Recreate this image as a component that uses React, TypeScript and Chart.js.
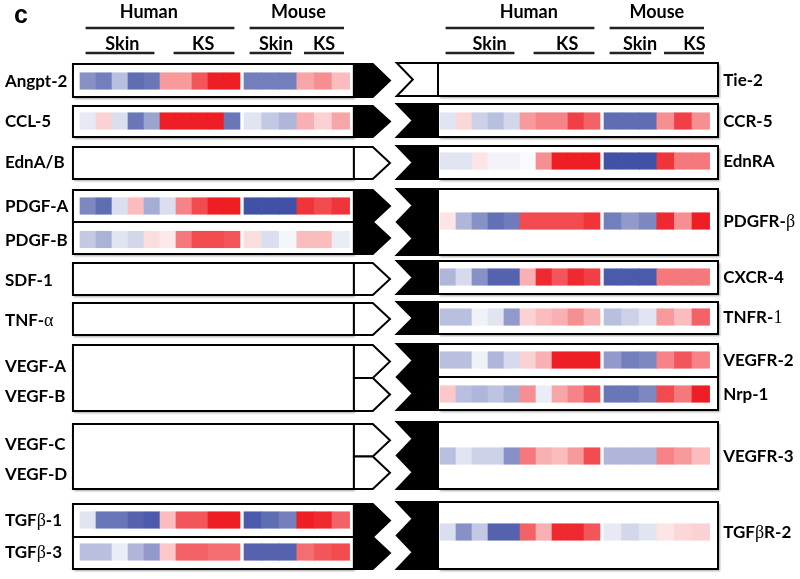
import React, { useEffect, useRef } from "react";
import { Chart, registerables } from "chart.js";

Chart.register(...registerables);

// ---------------- data ----------------
const PANEL_LETTER = "c";
const SPECIES = ["Human", "Mouse"];
const TISSUES = ["Skin", "KS"];
const HUMAN_SKIN_SAMPLES = 5;
const MOUSE_SKIN_SAMPLES = 3;

// relative expression (-1 = strongly down / blue, +1 = strongly up / red); null = not measured
const LIGANDS = ["Angpt-2", "CCL-5", "EdnA/B", "PDGF-A", "PDGF-B", "SDF-1", "TNF-α", "VEGF-A", "VEGF-B", "VEGF-C", "VEGF-D", "TGFβ-1", "TGFβ-3"];
const LIGAND_HUMAN: (number[] | null)[] = [
  [-0.6, -0.7, -0.35, -0.8, -0.75, 0.45, 0.45, 0.75, 1, 1],
  [-0.12, 0.2, -0.18, -0.75, -0.5, 1, 1, 1, 1, -0.75],
  null,
  [-0.65, -0.8, -0.18, 0.3, -0.45, -0.18, 0.55, 0.8, 1, 1],
  [-0.3, -0.42, -0.15, -0.22, 0.15, 0.1, 0.6, 0.8, 0.8, 0.75],
  null,
  null,
  null,
  null,
  null,
  null,
  [-0.15, -0.75, -0.75, -0.85, -0.9, 0.3, 0.75, 0.75, 1, 1],
  [-0.35, -0.35, -0.1, -0.4, -0.55, 0.25, 0.7, 0.7, 0.65, 0.65],
];
const LIGAND_MOUSE: (number[] | null)[] = [
  [-0.7, -0.7, -0.7, 0.4, 0.5, 0.3],
  [-0.15, -0.3, -0.4, 0.35, 0.2, 0.4],
  null,
  [-0.95, -0.95, -0.95, 0.9, 0.8, 0.9],
  [0.15, -0.18, -0.05, 0.3, 0.3, -0.1],
  null,
  null,
  null,
  null,
  null,
  null,
  [-0.9, -0.8, -0.7, 1, 0.95, 0.7],
  [-0.85, -0.85, -0.85, 0.65, 0.75, 0.8],
];

const RECEPTORS = ["Tie-2", "CCR-5", "EdnRA", "PDGFR-β", "CXCR-4", "TNFR-1", "VEGFR-2", "Nrp-1", "VEGFR-3", "TGFβR-2"];
const RECEPTOR_HUMAN: (number[] | null)[] = [
  null,
  [-0.15, 0.18, -0.25, -0.35, -0.22, 0.45, 0.55, 0.55, 0.85, 0.7],
  [-0.15, -0.15, 0.12, -0.06, -0.06, -0.03, 0.5, 1, 1, 1],
  [0.12, -0.4, -0.6, -0.78, -0.72, 0.8, 0.8, 0.8, 0.8, 0.9],
  [-0.4, -0.2, -0.6, -0.85, -0.85, 0.35, 0.95, 0.75, 0.95, 0.85],
  [-0.35, -0.35, -0.07, -0.15, -0.55, 0.2, 0.3, 0.35, 0.5, 0.35],
  [-0.35, -0.35, -0.07, -0.4, -0.2, 0.2, 0.35, 1, 1, 1],
  [0.25, -0.35, -0.4, -0.33, -0.45, 0.5, -0.1, 0.4, 0.55, 0.75],
  [-0.35, -0.15, -0.25, -0.25, -0.6, 0.6, 0.35, 0.3, 0.45, 0.8],
  [-0.18, -0.6, -0.3, -0.85, -0.85, 0.7, 0.35, 0.95, 0.95, 0.75],
];
const RECEPTOR_MOUSE: (number[] | null)[] = [
  null,
  [-0.8, -0.8, -0.8, 0.5, 0.85, 0.5],
  [-0.95, -0.95, -0.95, 0.9, 0.6, 0.6],
  [-0.7, -0.55, -0.65, 0.95, 0.5, 1],
  [-0.9, -0.9, -0.9, 0.6, 0.6, 0.6],
  [-0.35, -0.25, -0.15, 0.45, 0.3, 0.7],
  [-0.55, -0.7, -0.65, 0.55, 0.75, 0.55],
  [-0.75, -0.75, -0.65, 0.8, 0.6, 1],
  [-0.4, -0.4, -0.4, 0.55, 0.45, 0.3],
  [-0.12, -0.22, -0.15, 0.12, 0.18, 0.2],
];

// ---------------- layout (scale units) ----------------
// x: one unit = one human sample column; y: vertical position units
const COL = { humanW: 1, mouseStart: 10.25, mouseW: 1.1, rightOffset: 22.5 };
const X = {
  leftLabel: -4.69,
  leftBoxL: -0.44,
  leftBoxR: 17.12,
  arrowShoulder: 18.3,
  arrowTip: 19.375,
  notchL: 19.8,
  notchTip: 20.8,
  rightBoxL: 22.375,
  rightBoxR: 39.875,
  rightLabel: 40.2,
};
const LIGAND_ROW_Y = [81, 121, 162, 206, 239.5, 280, 320, 366, 396, 444, 474, 520, 552];
const RECEPTOR_ROW_Y = [80, 121, 161, 221, 277, 317, 360, 394, 456, 532];
const LEFT_BOXES = [[64, 97], [106, 137], [147, 179], [190, 222], [222, 254], [263, 295], [303, 335], [345, 411], [424, 489], [504, 537], [537, 569]];
const LEFT_ARROWS = [
  [64, 97, 1], [106, 137, 1], [147, 179, 0], [190, 222, 1], [222, 254, 1], [263, 295, 0], [303, 335, 0],
  [345, 378, 0], [378, 411, 0], [424, 456.5, 0], [456.5, 489, 0], [504, 537, 1], [537, 569, 1],
];
const RIGHT_BOXES = [[63, 96], [104, 137], [146, 179], [189, 255], [261, 294], [302, 334], [344, 377], [377, 410], [422, 489], [502, 569]];
const RIGHT_NOTCHES = [
  [63, 96, 1, 0], [104, 137, 1, 1], [146, 179, 1, 1], [189, 255, 2, 1], [261, 294, 1, 1],
  [302, 334, 1, 1], [344, 410, 2, 1], [422, 489, 2, 1], [502, 569, 2, 1],
];
const HEADER_Y = { species: 18, speciesLine: 28, tissue: 50, tissueLine: 53 };
// text-centre shifts (x units) for the hand-placed header words, per side: [species0, species1, t0h, t1h, t0m, t1m]
const HEADER_DX = [
  [-0.7, 0.1, 0.15, 0.2, 0.35, 0.05],
  [0.55, 0.0, 0.6, 0.45, 0.6, 0.7],
];

const RED = [237, 30, 36];
const BLUE = [55, 72, 160];
const LABEL_FONT = "bold 17px Lato";
const SERIF_FONT = "18px 'Liberation Serif'";
const HEADER_FONT = "bold 18px Lato";

function colorFor(v: number) {
  const c = v >= 0 ? RED : BLUE;
  const a = Math.min(1, Math.abs(v));
  const m = (k: number) => Math.round(255 * (1 - a) + c[k] * a);
  return `rgb(${m(0)},${m(1)},${m(2)})`;
}

function colRange(side: number, species: number, i: number): [number, number] {
  const off = side * COL.rightOffset;
  if (species === 0) return [off + i * COL.humanW, off + (i + 1) * COL.humanW];
  return [off + COL.mouseStart + i * COL.mouseW, off + COL.mouseStart + (i + 1) * COL.mouseW];
}

type Cell = { x: [number, number]; y: number; c: string };
function buildCells(): Cell[] {
  const out: Cell[] = [];
  const sides = [
    { h: LIGAND_HUMAN, m: LIGAND_MOUSE, y: LIGAND_ROW_Y },
    { h: RECEPTOR_HUMAN, m: RECEPTOR_MOUSE, y: RECEPTOR_ROW_Y },
  ];
  sides.forEach((s, side) => {
    s.h.forEach((row, r) => {
      if (!row) return;
      row.forEach((v, i) => out.push({ x: colRange(side, 0, i), y: s.y[r], c: colorFor(v) }));
      const mrow = s.m[r];
      if (mrow) mrow.forEach((v, i) => out.push({ x: colRange(side, 1, i), y: s.y[r], c: colorFor(v) }));
    });
  });
  return out;
}

const SERIF_TAIL: Record<string, number> = { "TNFR-1": 5 };
function drawRich(ctx: CanvasRenderingContext2D, text: string, x: number, y: number) {
  const runs: { t: string; serif: boolean }[] = [];
  const from = SERIF_TAIL[text];
  for (let i = 0; i < text.length; i++) {
    const ch = text[i];
    const serif = "αβ".includes(ch) || (from !== undefined && i >= from);
    const last = runs[runs.length - 1];
    if (last && last.serif === serif) last.t += ch;
    else runs.push({ t: ch, serif });
  }
  let cx = x;
  for (const r of runs) {
    ctx.font = r.serif ? SERIF_FONT : LABEL_FONT;
    ctx.fillText(r.t, cx, y);
    cx += ctx.measureText(r.t).width;
  }
}

const decorPlugin = {
  id: "decor",
  beforeDatasetsDraw(chart: any) {
    const ctx: CanvasRenderingContext2D = chart.ctx;
    const xs = chart.scales.x;
    const ys = chart.scales.y;
    const px = (u: number) => xs.getPixelForValue(u);
    const py = (v: number) => ys.getPixelForValue(v);
    ctx.save();
    const box = (l: number, r: number, t: number, b: number) => {
      ctx.save();
      ctx.shadowColor = "rgba(0,0,0,0.35)";
      ctx.shadowBlur = 2;
      ctx.shadowOffsetX = 1.5;
      ctx.shadowOffsetY = 1.5;
      ctx.fillStyle = "#fff";
      ctx.fillRect(px(l), py(t), px(r) - px(l), py(b) - py(t));
      ctx.restore();
      ctx.strokeStyle = "#000";
      ctx.lineWidth = 2;
      ctx.strokeRect(px(l), py(t), px(r) - px(l), py(b) - py(t));
    };
    LEFT_BOXES.forEach(([t, b]) => box(X.leftBoxL, X.leftBoxR, t, b));
    RIGHT_BOXES.forEach(([t, b]) => box(X.rightBoxL, X.rightBoxR, t, b));

    const poly = (pts: [number, number][], filled: boolean) => {
      ctx.beginPath();
      pts.forEach(([u, v], i) => (i ? ctx.lineTo(px(u), py(v)) : ctx.moveTo(px(u), py(v))));
      ctx.closePath();
      ctx.fillStyle = filled ? "#000" : "#fff";
      ctx.fill();
      ctx.strokeStyle = "#000";
      ctx.lineWidth = 2;
      ctx.lineJoin = "miter";
      ctx.stroke();
    };
    LEFT_ARROWS.forEach(([t, b, f]) => {
      const base = X.leftBoxR;
      poly([[base, t], [X.arrowShoulder, t], [X.arrowTip, (t + b) / 2], [X.arrowShoulder, b], [base, b]], !!f);
    });
    RIGHT_NOTCHES.forEach(([t, b, n, f]) => {
      const h = (b - t) / n;
      const pts: [number, number][] = [[X.notchL, t], [X.rightBoxL, t], [X.rightBoxL, b], [X.notchL, b]];
      for (let k = n - 1; k >= 0; k--) {
        pts.push([X.notchTip, t + (k + 0.5) * h]);
        if (k > 0) pts.push([X.notchL, t + k * h]);
      }
      poly(pts, !!f);
    });
    ctx.restore();
  },
  afterDatasetsDraw(chart: any) {
    const ctx: CanvasRenderingContext2D = chart.ctx;
    const xs = chart.scales.x;
    const ys = chart.scales.y;
    const px = (u: number) => xs.getPixelForValue(u);
    const py = (v: number) => ys.getPixelForValue(v);
    ctx.save();
    ctx.fillStyle = "#000";
    ctx.textBaseline = "middle";
    ctx.textAlign = "left";
    LIGANDS.forEach((name, i) => drawRich(ctx, name, px(X.leftLabel), py(LIGAND_ROW_Y[i]) + 1));
    RECEPTORS.forEach((name, i) => drawRich(ctx, name, px(X.rightLabel), py(RECEPTOR_ROW_Y[i]) + 1));

    // panel letter
    ctx.textBaseline = "alphabetic";
    ctx.font = "bold 25px 'Liberation Sans'";
    ctx.fillText(PANEL_LETTER, px(X.leftLabel) + 9, py(23));

    // headers
    ctx.textAlign = "center";
    ctx.font = HEADER_FONT;
    ctx.strokeStyle = "#222";
    ctx.lineWidth = 2.5;
    const inset = 0.35;
    const line = (a: number, b: number, v: number) => {
      ctx.beginPath();
      ctx.moveTo(px(a + inset), py(v));
      ctx.lineTo(px(b - inset), py(v));
      ctx.stroke();
    };
    for (let side = 0; side < 2; side++) {
      const dx = HEADER_DX[side];
      const hA = colRange(side, 0, 0)[0];
      const hS = colRange(side, 0, HUMAN_SKIN_SAMPLES)[0];
      const hB = colRange(side, 0, 9)[1];
      const mA = colRange(side, 1, 0)[0];
      const mS = colRange(side, 1, MOUSE_SKIN_SAMPLES)[0];
      const mB = colRange(side, 1, 5)[1];
      ctx.fillText(SPECIES[0], px((hA + hB) / 2 + dx[0]), py(HEADER_Y.species));
      ctx.fillText(SPECIES[1], px((mA + mB) / 2 + dx[1]), py(HEADER_Y.species));
      line(hA, hB, HEADER_Y.speciesLine);
      line(mA, mB, HEADER_Y.speciesLine);
      ctx.fillText(TISSUES[0], px((hA + hS) / 2 + dx[2]), py(HEADER_Y.tissue));
      ctx.fillText(TISSUES[1], px((hS + hB) / 2 + dx[3]), py(HEADER_Y.tissue));
      ctx.fillText(TISSUES[0], px((mA + mS) / 2 + dx[4]), py(HEADER_Y.tissue));
      ctx.fillText(TISSUES[1], px((mS + mB) / 2 + dx[5]), py(HEADER_Y.tissue));
      line(hA, hS, HEADER_Y.tissueLine);
      line(hS + 0.5, hB, HEADER_Y.tissueLine);
      line(mA, mS, HEADER_Y.tissueLine);
      line(mS + 0.1, mB, HEADER_Y.tissueLine);
    }
    ctx.restore();
  },
};

export default function App() {
  const ref = useRef<HTMLCanvasElement | null>(null);
  useEffect(() => {
    if (!ref.current) return;
    const cells = buildCells();
    const chart = new Chart(ref.current, {
      type: "bar",
      data: {
        datasets: [
          {
            data: cells.map((c) => ({ x: c.x, y: c.y })) as any,
            backgroundColor: cells.map((c) => c.c),
            borderWidth: 0,
            barThickness: 16.5,
            grouped: false,
          } as any,
        ],
      },
      options: {
        indexAxis: "y",
        animation: false,
        responsive: true,
        maintainAspectRatio: false,
        layout: { padding: 0 },
        plugins: { legend: { display: false }, tooltip: { enabled: false } },
        scales: {
          x: { type: "linear", min: -5, max: 45, display: false, offset: false },
          y: { type: "linear", min: 0, max: 579, reverse: true, display: false, offset: false },
        },
      },
      plugins: [decorPlugin],
    });
    return () => chart.destroy();
  }, []);
  return (
    <div style={{ position: "fixed", left: 0, top: 0, width: 800, height: 579, background: "#fff" }}>
      <canvas ref={ref} />
    </div>
  );
}
